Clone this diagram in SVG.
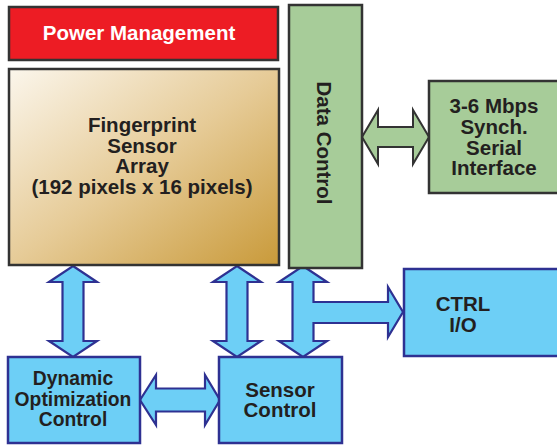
<svg xmlns="http://www.w3.org/2000/svg" width="557" height="447" viewBox="0 0 557 447">
<defs>
<linearGradient id="fpg" x1="0" y1="0" x2="1" y2="1">
<stop offset="0" stop-color="#FBF6EC"/>
<stop offset="0.5" stop-color="#E6CB97"/>
<stop offset="1" stop-color="#C99A3A"/>
</linearGradient>
<style>
.gbox{stroke:#333333;stroke-width:2.5}
.bbox{fill:#6DCFF6;stroke:#2E3192;stroke-width:2.5}
.green{fill:#A7CC99}
.barrow{fill:#6DCFF6;stroke:#2E3192;stroke-width:2.2;stroke-linejoin:miter}
.garrow{fill:#A7CC99;stroke:#333333;stroke-width:2;stroke-linejoin:miter}
text{font-family:"Liberation Sans",Arial,sans-serif;font-weight:bold;font-size:20.5px;fill:#231F20;text-anchor:middle}
.white{fill:#FFFFFF}
.small{font-size:19.3px}
</style>
</defs>
<g id="connectors">
<polygon class="garrow" points="362,137 378,110 378,127 413,127 413,110 429,137 413,164 413,147 378,147 378,164"/>
<polygon class="barrow" points="73,266 97,282 83.5,282 83.5,341 97,341 73,357 49,341 62.5,341 62.5,282 49,282"/>
<polygon class="barrow" points="237,266 261,282 247.5,282 247.5,341 261,341 237,357 213,341 226.5,341 226.5,282 213,282"/>
<polygon class="barrow" points="303,266 327,282 313.5,282 313.5,302 388,302 388,287 403,312 388,337 388,323 313.5,323 313.5,341 327,341 303,357 279,341 292.5,341 292.5,282 279,282"/>
<polygon class="barrow" points="140,400 156,375 156,388.5 205,388.5 205,375 220,400 205,425 205,411.5 156,411.5 156,425"/>
</g>
<g id="power">
<rect class="gbox" x="9" y="7" width="269" height="53" fill="#ED1C24"/>
<text class="white" x="139" y="40">Power Management</text>
</g>
<g id="fingerprint">
<rect class="gbox" x="9" y="69" width="270" height="196" fill="url(#fpg)"/>
<text x="142" y="132">Fingerprint</text>
<text x="142" y="152.5">Sensor</text>
<text x="142" y="173">Array</text>
<text x="142" y="193.5">(192 pixels x 16 pixels)</text>
</g>
<g id="datacontrol">
<rect class="gbox green" x="289" y="5" width="73" height="263"/>
<text transform="translate(317,143) rotate(90)" x="0" y="0">Data Control</text>
</g>
<g id="serial">
<rect class="gbox green" x="429" y="81" width="135" height="112"/>
<text x="494" y="113">3-6 Mbps</text>
<text x="494" y="134">Synch.</text>
<text x="494" y="155">Serial</text>
<text x="494" y="175">Interface</text>
</g>
<g id="ctrlio">
<rect class="bbox" x="404" y="269" width="160" height="87"/>
<text x="463" y="311">CTRL</text>
<text x="463" y="332">I/O</text>
</g>
<g id="dynamic">
<rect class="bbox" x="8" y="357" width="132" height="86"/>
<text class="small" x="73" y="385">Dynamic</text>
<text class="small" x="73" y="406">Optimization</text>
<text class="small" x="73" y="426">Control</text>
</g>
<g id="sensorcontrol">
<rect class="bbox" x="219" y="357" width="123" height="86"/>
<text x="280" y="397">Sensor</text>
<text x="280" y="417">Control</text>
</g>
</svg>
